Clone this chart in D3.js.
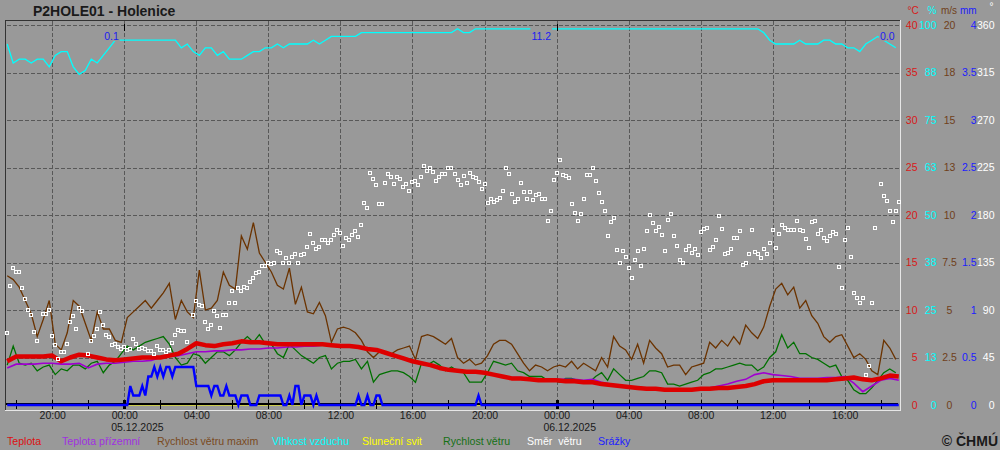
<!DOCTYPE html>
<html><head><meta charset="utf-8">
<script src="https://cdn.jsdelivr.net/npm/d3@7"></script>
<style>
body{margin:0;background:#999999;}
svg{display:block;font-family:"Liberation Sans",Arial,sans-serif;}
</style>
</head><body>
<svg id="chart" width="1000" height="450"></svg>
<script>
// ---------------- DATA ----------------
const title = "P2HOLE01 - Holenice";
const copyright = "\u00A9 \u010CHM\u00DA";
// all series start 04.12.2025 17:30, different sampling steps (minutes)
const seriesStart = new Date(2025, 11, 4, 17, 30);
const xDomain = [new Date(2025, 11, 4, 17, 26), new Date(2025, 11, 6, 19, 4)];

// Teplota [°C], 30 min
const temperature = [4.6,5.1,5.1,5.1,5.1,5.2,4.6,5.0,5.3,5.2,
 5.0,4.8,4.7,4.8,4.9,5.0,5.0,5.0,5.2,5.4,
 5.9,6.5,6.3,6.2,6.4,6.5,6.7,6.6,6.6,6.5,
 6.4,6.4,6.4,6.4,6.4,6.4,6.3,6.2,6.2,6.1,
 5.9,5.8,5.5,5.2,4.9,4.6,4.4,4.2,3.9,3.7,
 3.6,3.5,3.5,3.4,3.2,3.0,2.8,2.8,2.7,2.6,
 2.6,2.6,2.5,2.5,2.4,2.4,2.2,2.1,2.0,1.9,
 1.8,1.7,1.7,1.6,1.6,1.6,1.6,1.7,1.7,1.8,
 1.8,1.9,2.0,2.2,2.5,2.6,2.6,2.6,2.6,2.6,
 2.6,2.6,2.7,2.8,2.9,2.7,2.6,2.8,3.1,3.0];
// Teplota přízemní [°C], 30 min
const groundTemperature = [3.9,4.3,4.3,4.3,4.4,4.4,4.3,4.3,4.4,3.9,
 4.3,4.4,4.4,4.5,4.6,4.6,4.7,5.0,5.1,5.2,
 5.4,5.6,5.6,5.7,5.7,5.8,5.8,5.9,5.9,6.0,
 6.0,6.1,6.1,6.2,6.2,6.3,6.3,6.3,6.3,6.1,
 5.9,5.7,5.5,5.2,4.9,4.6,4.4,4.1,3.9,3.7,
 3.6,3.6,3.5,3.4,3.2,3.0,2.9,2.9,2.8,2.7,
 2.7,2.7,2.7,2.7,2.6,2.7,2.4,2.2,2.0,1.8,
 1.8,1.7,1.6,1.6,1.6,1.7,1.7,1.7,1.8,2.0,
 2.2,2.5,2.7,3.2,3.4,3.2,3.1,3.0,2.8,2.8,
 2.8,2.9,2.9,3.0,2.3,1.4,2.0,2.6,2.8,2.6];
// Sluneční svit, 30 min
const sunshine = [0,0,0,0,0,0,0,0,0,0, 0,0,0,0,0,0,0,0,0,0, 0,0,0,0,0,0,0,0,0,0,
 0,0,0,0,0,0,0,0,0,0, 0,0,0,0,0,0,0,0,0,0, 0,0,0,0,0,0,0,0,0,0,
 0,0,0,0,0,0,0,0,0,0, 0,0,0,0,0,0,0,0,0,0, 0,0,0,0,0,0,0,0,0,0, 0,0,0,0,0,0,0,0,0,0];
// Vlhkost vzduchu [%], 20 min
const humidity = [95,90,91,91,90,91,91,89,92,93,
 93,89,87,88,91,90,92,94,96,96,
 96,96,96,96,96,96,96,96,96,94,
 95,93,92,94,94,92,93,91,91,91,
 92,93,93,94,94,95,94,95,95,95,
 95,96,95,96,97,97,97,97,97,98,
 98,98,98,98,98,98,98,98,98,98,
 98,98,98,98,98,99,98,98,99,99,
 99,99,99,99,99,99,99,99,99,99,
 99,99,99,99,99,99,99,99,99,99,
 99,99,99,99,99,99,99,99,99,99,
 99,99,99,99,99,99,99,99,99,99,
 99,99,99,99,99,99,98,96,95,95,
 95,95,96,95,95,95,96,96,95,95,
 94,94,93,95,96,97,96,95,94];
// Rychlost větru maxim [m/s], 20 min
const windGust = [6.8,6.6,6.2,5.5,4.8,3.6,4.5,5.5,3.2,2.9,
 3.8,5.5,5.2,4.3,3.4,4.9,4.0,4.0,3.4,3.3,
 4.6,4.9,5.2,5.5,5.1,5.5,5.9,6.4,4.5,5.5,
 4.9,4.6,7.1,5.0,5.1,5.5,7.0,6.3,6.1,8.9,
 8.2,9.6,8.0,7.5,7.0,6.3,6.1,7.2,5.3,6.2,
 4.9,4.8,5.4,4.7,3.3,4.0,4.1,4.0,3.8,3.4,
 2.8,2.5,2.8,2.7,2.7,2.9,3.0,3.1,2.4,3.6,
 3.7,3.6,3.4,3.2,3.5,2.5,2.2,2.4,2.1,2.2,
 2.6,3.2,3.4,3.4,3.2,2.7,2.2,1.8,2.1,2.0,
 1.8,2.0,2.1,2.0,2.3,1.9,2.2,2.0,1.8,2.5,
 2.0,3.6,3.1,2.9,2.4,3.2,2.2,3.4,3.0,2.7,
 2.0,2.1,2.1,1.6,2.0,2.1,2.2,3.3,3.0,3.4,
 3.1,3.6,3.2,4.2,3.8,3.5,4.1,5.2,6.1,6.4,
 5.8,6.2,5.1,5.5,4.7,4.3,3.6,3.3,3.6,3.7,
 3.1,2.5,2.7,2.4,1.8,1.6,3.4,3.0,2.4];
// Rychlost větru [m/s], 20 min
const windSpeed = [2.1,3.1,2.2,2.1,2.2,1.8,2.0,2.1,1.6,1.9,
 1.8,2.1,2.1,1.9,2.2,2.3,1.7,2.1,2.3,2.7,
 3.1,2.9,3.1,3.3,3.4,3.5,3.6,3.2,2.5,2.1,
 2.2,2.7,2.6,2.2,2.5,2.8,2.8,2.6,2.9,3.3,
 3.6,3.3,3.7,3.2,3.2,2.7,2.5,3.2,2.9,2.6,
 2.4,2.2,2.5,2.6,1.9,2.2,2.3,2.3,2.4,1.9,
 2.3,1.2,1.6,1.7,1.8,1.8,1.7,1.5,1.2,2.2,
 2.1,2.3,2.1,1.8,2.0,1.8,1.7,1.2,1.2,1.2,
 1.7,2.3,2.2,2.1,2.2,1.8,1.7,1.5,1.5,1.5,
 1.3,1.3,1.2,1.4,1.4,1.3,1.2,1.2,1.5,1.7,
 1.3,1.9,1.6,1.3,1.3,1.4,1.5,1.8,1.8,1.7,
 1.1,1.1,1.0,1.1,1.2,1.3,1.6,1.7,1.9,1.9,
 2.0,2.1,2.2,2.1,2.1,1.8,2.0,2.5,2.8,3.7,
 3.0,3.3,2.7,2.7,2.5,2.4,2.2,2.0,2.1,1.5,
 1.3,0.8,0.6,0.6,0.9,1.3,1.7,1.9,1.7];
// Směr větru [°], 10 min (null = missing)
const windDirection = [68,113,130,126,126,111,100,90,85,69,
 61,null,86,86,90,65,57,44,50,50,
 58,79,84,72,92,89,null,48,61,65,
 72,88,76,66,64,57,58,55,53,55,
 52,53,63,58,53,54,53,51,51,48,
 56,52,52,50,52,59,66,71,70,70,
 60,null,85,99,95,94,79,72,76,89,
 84,73,85,85,97,108,97,111,108,112,
 111,117,120,125,126,132,132,135,134,135,
 146,144,135,139,135,140,143,135,142,143,
 150,162,153,148,150,156,156,153,156,161,
 166,163,151,158,156,161,165,159,171,191,
 187,220,214,208,190,190,210,219,216,209,
 216,214,207,209,203,211,212,208,216,226,
 222,225,221,212,216,219,219,225,225,219,
 213,208,217,210,220,216,215,211,205,209,
 191,195,192,194,196,203,225,219,200,192,
 195,210,202,195,202,194,199,200,195,195,
 174,184,213,220,232,218,217,215,190,182,
 174,181,195,218,218,225,212,201,192,184,
 160,173,177,147,135,146,140,130,120,137,
 146,132,148,165,180,172,165,169,161,146,
 175,181,160,151,137,135,147,151,144,148,
 142,164,167,168,147,150,156,179,167,143,
 144,148,158,158,165,133,135,143,166,145,
 143,139,148,143,153,166,149,162,171,168,
 166,166,166,174,166,165,157,149,173,174,
 162,166,158,155,160,164,162,131,111,156,
 168,140,106,101,97,101,28,37,97,168,
 null,209,198,193,184,173,184,192];
// Srážky [mm], 10 min
const precipitation = [0,0,0,0,0,0,0,0,0,0, 0,0,0,0,0,0,0,0,0,0,
 0,0,0,0,0,0,0,0,0,0, 0,0,0,0,0,0,0,0,0,0,
 0,0.2,0.1,0.1,0.1,0.2,0.1,0.3,0.3,0.4,
 0.3,0.4,0.3,0.4,0.4,0.3,0.4,0.4,0.4,0.4,
 0.4,0.4,0.4,0.2,0.2,0.2,0.2,0.2,0.1,0.2,
 0.2,0.1,0.1,0.2,0.1,0.1,0.1,0,0.1,0.1,
 0.1,0,0,0,0.1,0.1,0.1,0.1,0.1,0.1,
 0.1,0.1,0,0,0.1,0,0.2,0.2,0,0.1,
 0.1,0.1,0,0.1,0,0,0,0,0,0,
 0,0,0,0,0,0,0,0.1,0,0,
 0.1,0,0,0.1,0.1,0,
 0,0,0,0,0,0,0,0,0,0, 0,0,0,0,0,0,0,0,0,0, 0,0,0,0,0,0,0,0,0,0, 0,
 0.1,
 0,0,0,0,0,0,0,0,0,0, 0,0,0,0,0,0,0,0,0,0, 0,0,0,0,0,0,0,0,0,0, 0,0,0,0,0,0,0,0,0,0,
 0,0,0,0,0,0,0,0,0,0, 0,0,0,0,0,0,0,0,0,0, 0,0,0,0,0,0,0,0,0,0, 0,0,0,0,0,0,0,0,0,0,
 0,0,0,0,0,0,0,0,0,0, 0,0,0,0,0,0,0,0,0,0, 0,0,0,0,0,0,0,0,0,0, 0,0,0,0,0,0,0,0,0,0,
 0,0,0,0,0,0,0,0,0,0, 0,0,0,0,0,0,0,0,0,0];
// daily labels at top
const dailyLabels = ["0.1", "11.2", "0.0"];
const dailyLabelTimes = [new Date(2025,11,5,0,0), new Date(2025,11,6,0,0), new Date(2025,11,6,19,4)];
const dateLabels = ["05.12.2025", "06.12.2025"];
// right axis scales
const tempTicks = [0,5,10,15,20,25,30,35,40];
const humidityTickLabels = ["0","13","25","38","50","63","75","88","100"];
const windTickLabels = ["0","2.5","5","7.5","10","13","15","18","20"];
const precipTickLabels = ["0","0.5","1","1.5","2","2.5","3","3.5","4"];
const directionTickLabels = ["0","45","90","135","180","225","270","315","360"];
const unitLabels = ["\u00B0C", "%", "m/s", "mm", "\u00B0"];
const legendLabels = ["Teplota","Teplota p\u0159\u00EDzemn\u00ED","Rychlost v\u011Btru maxim","Vlhkost vzduchu","Slune\u010Dn\u00ED svit","Rychlost v\u011Btru","Sm\u011Br  v\u011Btru","Sr\u00E1\u017Eky"];

// ---------------- STYLE / LAYOUT ----------------
const C = {
  bg:"#999999", grid:"#585858", text:"#1a1a1a",
  temp:"#dd0000", ground:"#a000d0", gust:"#6b3300", hum:"#00ffff",
  sun:"#ffff00", wind:"#007000", dir:"#ffffff", precip:"#0000ff"
};
const legendColors = ["#dd1010","#a030e0","#7a4a22","#00ffff","#ffff00","#157015","#ffffff","#2020ff"];
const legendX = [7, 62, 157, 272, 362, 443, 527, 598];
const plot = {left:6, right:900, top:20, bottom:410};

const svg = d3.select("#chart");
svg.append("rect").attr("width",1000).attr("height",450).attr("fill",C.bg);

const x = d3.scaleTime().domain(xDomain).range([plot.left, plot.right]);
const yT = d3.scaleLinear().domain([0,40]).range([405,25]);
const yH = d3.scaleLinear().domain([0,100]).range([405,25]);
const yW = d3.scaleLinear().domain([0,20]).range([405,25]);
const yP = d3.scaleLinear().domain([0,4]).range([405,25]);
const yD = d3.scaleLinear().domain([0,360]).range([405,25]);

function toSeries(values, stepMin){
  return values.map((v,i)=>({t:new Date(seriesStart.getTime()+i*stepMin*60000), v}));
}
const lineFor = (ys)=> d3.line().defined(d=>d.v!=null).x(d=>x(d.t)).y(d=>ys(d.v));

// grid
const gridG = svg.append("g").attr("stroke",C.grid).attr("stroke-dasharray","4,2").attr("shape-rendering","crispEdges");
gridG.selectAll("line.h").data(tempTicks.filter(d=>d>0)).join("line")
  .attr("x1",plot.left+1).attr("x2",plot.right-1)
  .attr("y1",d=>Math.round(yT(d))+0.5).attr("y2",d=>Math.round(yT(d))+0.5);
const gridTimes = x.ticks(d3.timeHour.every(4));
gridG.selectAll("line.v").data(gridTimes).join("line")
  .attr("x1",d=>Math.round(x(d))+0.5).attr("x2",d=>Math.round(x(d))+0.5)
  .attr("y1",plot.top+1).attr("y2",404);

// frame
const fr = svg.append("g").attr("shape-rendering","crispEdges");
fr.append("line").attr("x1",plot.left-0.5).attr("x2",plot.right).attr("y1",plot.top+0.5).attr("y2",plot.top+0.5).attr("stroke","#333");
fr.append("line").attr("x1",plot.left-0.5).attr("x2",plot.left-0.5).attr("y1",plot.top).attr("y2",plot.bottom+1).attr("stroke","#333");
fr.append("line").attr("x1",plot.right+0.5).attr("x2",plot.right+0.5).attr("y1",plot.top).attr("y2",plot.bottom+1).attr("stroke","#e6e6e6");
fr.append("line").attr("x1",plot.left-1).attr("x2",plot.right+1).attr("y1",plot.bottom+0.5).attr("y2",plot.bottom+0.5).attr("stroke","#e6e6e6");

// sunshine (zero all along) lies under the axis line
svg.append("path").datum(toSeries(sunshine,30)).attr("d",lineFor(yT))
  .attr("fill","none").attr("stroke",C.sun).attr("stroke-width",1);

// bottom axis line + ticks
svg.append("rect").attr("x",plot.left).attr("width",plot.right-2-plot.left).attr("y",403).attr("height",2)
  .attr("fill","#000");
const tickTimes = x.ticks(d3.timeHour.every(2));
svg.append("g").selectAll("rect").data(tickTimes).join("rect")
  .attr("x",d=> d.getHours()===0 ? Math.round(x(d))-1 : Math.round(x(d)))
  .attr("width",d=> d.getHours()===0 ? 3 : 1)
  .attr("y",400).attr("height",9).attr("fill","#000");

// ---------- series ----------
const gPlot = svg.append("g");
gPlot.append("path").datum(toSeries(humidity,20)).attr("d",lineFor(yH))
  .attr("fill","none").attr("stroke",C.hum).attr("stroke-width",1.3);
gPlot.append("path").datum(toSeries(windGust,20)).attr("d",lineFor(yW))
  .attr("fill","none").attr("stroke",C.gust).attr("stroke-width",1.3);
gPlot.append("path").datum(toSeries(windSpeed,20)).attr("d",lineFor(yW))
  .attr("fill","none").attr("stroke",C.wind).attr("stroke-width",1.3);
gPlot.append("path").datum(toSeries(groundTemperature,30)).attr("d",lineFor(yT))
  .attr("fill","none").attr("stroke",C.ground).attr("stroke-width",1.6);
gPlot.append("path").datum(toSeries(temperature,30)).attr("d",lineFor(yT))
  .attr("fill","none").attr("stroke",C.temp).attr("stroke-width",4.5).attr("stroke-linejoin","round");
// wind direction dots
gPlot.append("g").selectAll("rect").data(toSeries(windDirection,10).filter(d=>d.v!=null)).join("rect")
  .attr("x",d=>Math.round(x(d.t))-1.5).attr("y",d=>Math.round(yD(d.v))-1.5)
  .attr("width",3).attr("height",3).attr("fill","none").attr("stroke",C.dir).attr("stroke-width",1);
gPlot.append("path").datum(toSeries(precipitation,10)).attr("d",lineFor(yP))
  .attr("fill","none").attr("stroke",C.precip).attr("stroke-width",2.4);

// midnight markers at top
svg.append("g").selectAll("line").data(gridTimes.filter(d=>d.getHours()===0)).join("line")
  .attr("x1",d=>Math.round(x(d))+0.5).attr("x2",d=>Math.round(x(d))+0.5)
  .attr("y1",24).attr("y2",31).attr("stroke","#000").attr("shape-rendering","crispEdges");

// daily labels at top (opaque background)
const dl = svg.append("g").attr("font-size","10.5px").attr("fill","#1c1cf0");
dailyLabels.forEach((lab,i)=>{
  const t = dl.append("text").attr("x",x(dailyLabelTimes[i])-5.5).attr("y",39.5)
    .attr("text-anchor","end").text(lab);
  const w = t.node().getComputedTextLength();
  dl.insert("rect","text").attr("x",x(dailyLabelTimes[i])-5.5-w-1).attr("y",28)
    .attr("width",w+2).attr("height",13).attr("fill",C.bg);
});

// ---------- x axis labels ----------
const labelTimes = x.ticks(d3.timeHour.every(4));
const xAxis = d3.axisBottom(x).tickValues(labelTimes).tickFormat(d3.timeFormat("%H:%M")).tickSize(0).tickPadding(0);
const xg = svg.append("g").attr("transform","translate(0,412)").call(xAxis);
xg.select(".domain").remove();
xg.selectAll("text").attr("font-size","10.5px").attr("fill",C.text).attr("font-family","Liberation Sans, Arial, sans-serif");
const midnights = labelTimes.filter(d=>d.getHours()===0);
const sample = xg.select("text").node().getComputedTextLength();
svg.append("g").selectAll("text").data(midnights).join("text")
  .attr("x",d=>x(d)-sample/2).attr("y",431).attr("font-size","10.5px").attr("fill",C.text)
  .text((d,i)=>dateLabels[i]);

// ---------- right axes ----------
function rightAxis(scale, values, labels, xPos, color, anchor){
  const ax = d3.axisLeft(scale).tickValues(values).tickFormat((d,i)=>labels[i]).tickSize(0).tickPadding(0);
  const g = svg.append("g").attr("transform",`translate(${xPos},0)`).call(ax);
  g.select(".domain").remove();
  g.selectAll("text").attr("fill",color).attr("font-size","10.5px").attr("font-family","Liberation Sans, Arial, sans-serif")
    .attr("text-anchor",anchor);
}
rightAxis(yT, tempTicks, tempTicks.map(String), 917.5, "#d81818", "end");
rightAxis(yH, tempTicks.map(d=>d*2.5), humidityTickLabels, 936.5, "#00ffff", "end");
rightAxis(yW, tempTicks.map(d=>d/2), windTickLabels, 949.5, "#70401a", "middle");
rightAxis(yP, tempTicks.map(d=>d/10), precipTickLabels, 976.5, "#1c1cff", "end");
rightAxis(yD, tempTicks.map(d=>d*9), directionTickLabels, 994.5, "#ffffff", "end");
const unitX = [907.5, 927.5, 941, 960, 989.5];
const unitColors = ["#d81818","#00ffff","#70401a","#1c1cff","#ffffff"];
svg.append("g").selectAll("text").data(unitLabels).join("text")
  .attr("x",(d,i)=>unitX[i]).attr("y",(d,i)=> i===4 ? 10 : 14).attr("font-size","10px")
  .attr("fill",(d,i)=>unitColors[i]).text(d=>d);

// ---------- title, legend, copyright ----------
svg.append("text").attr("x",33).attr("y",15.5).attr("font-size","14px").attr("font-weight","bold")
  .attr("fill",C.text).text(title);
svg.append("g").selectAll("text").data(legendLabels).join("text")
  .attr("x",(d,i)=>legendX[i]).attr("y",445).attr("font-size","10.6px")
  .attr("fill",(d,i)=>legendColors[i]).style("white-space","pre").text(d=>d);
svg.append("text").attr("x",998).attr("y",446).attr("text-anchor","end").attr("font-size","14px")
  .attr("font-weight","bold").attr("fill",C.text).text(copyright);
</script>
</body></html>
